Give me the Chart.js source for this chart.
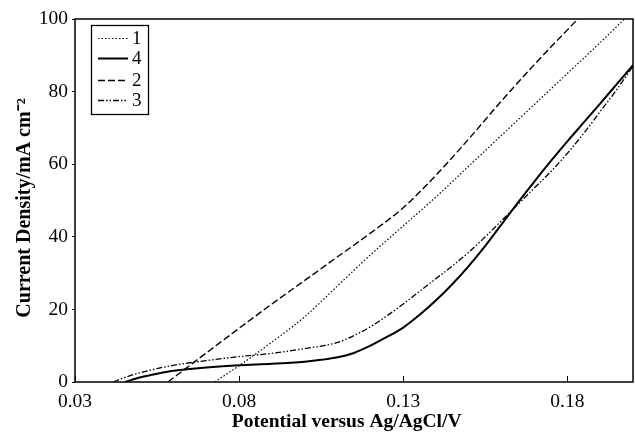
<!DOCTYPE html>
<html>
<head>
<meta charset="utf-8">
<script src="https://cdn.jsdelivr.net/npm/chart.js@4.4.1/dist/chart.umd.min.js"></script>
<style>
  html, body { margin: 0; padding: 0; background: #fff; }
  #wrap { width: 635px; height: 434px; }
</style>
</head>
<body>
<div id="wrap"><canvas id="ivChart" width="635" height="434"></canvas></div>
<script>
// curve labels, legend order as in the figure
const seriesLabels = ["1", "4", "2", "3"];

// curve 1 (dotted)
const potential1 = [0.0726, 0.08, 0.09, 0.10, 0.11, 0.12, 0.13, 0.14, 0.15, 0.16, 0.17, 0.18, 0.19, 0.1974];
const current1   = [0, 4.5, 11, 18, 26.5, 35, 43, 51, 59.5, 68, 76.5, 85, 93.5, 100];

// curve 4 (solid)
const potential4 = [0.0452, 0.05, 0.055, 0.06, 0.065, 0.07, 0.08, 0.09, 0.10, 0.105, 0.11, 0.115, 0.12, 0.125, 0.13, 0.135, 0.14, 0.145, 0.15, 0.155, 0.16, 0.165, 0.17, 0.175, 0.18, 0.185, 0.19, 0.195, 0.20];
const current4   = [0, 1.3, 2.3, 3.1, 3.6, 4.0, 4.6, 5.0, 5.6, 6.1, 6.8, 8.0, 10.0, 12.4, 15, 18.5, 22.5, 27, 32, 37.5, 43.5, 49.5, 55.3, 60.9, 66.3, 71.5, 76.7, 82, 87.3];

// curve 2 (dashed)
const potential2 = [0.0583, 0.07, 0.08, 0.09, 0.10, 0.11, 0.12, 0.13, 0.14, 0.15, 0.16, 0.17, 0.18, 0.1832];
const current2   = [0, 8, 14.8, 21.5, 28, 34.5, 41, 48, 57, 67, 77.5, 87.5, 97, 100];

// curve 3 (dash-dot)
const potential3 = [0.0417, 0.045, 0.05, 0.055, 0.06, 0.065, 0.07, 0.08, 0.09, 0.10, 0.105, 0.11, 0.115, 0.12, 0.125, 0.13, 0.135, 0.14, 0.145, 0.15, 0.155, 0.16, 0.165, 0.17, 0.175, 0.18, 0.185, 0.19, 0.195, 0.20];
const current3   = [0, 1.2, 2.6, 3.7, 4.6, 5.3, 5.9, 7.0, 7.9, 9.2, 9.9, 10.9, 12.8, 15.2, 18.2, 21.5, 25, 28.5, 32, 35.8, 40, 44.5, 49, 53.5, 58, 63, 68.5, 74.5, 80.5, 87];

// axis ticks
const xTicks = [0.03, 0.08, 0.13, 0.18];
const yTicks = [0, 20, 40, 60, 80, 100];

const FONT = "'Liberation Serif', 'Times New Roman', serif";

function toPoints(xs, ys) {
    return xs.map((x, i) => ({ x: x, y: ys[i] }));
}

const lineStyles = [
    { dash: [1.5, 2], width: 1.2 },   // 1
    { dash: [], width: 2 },           // 4
    { dash: [7, 3], width: 1.4 },     // 2
    { dash: [6, 2, 1.5, 2, 1.5, 2], width: 1.3 } // 3
];

const seriesData = [
    toPoints(potential1, current1),
    toPoints(potential4, current4),
    toPoints(potential2, current2),
    toPoints(potential3, current3)
];

// frame, inward x ticks and the boxed legend
const framePlugin = {
    id: "frame",
    afterDraw(chart) {
        const ctx = chart.ctx;
        const a = chart.chartArea;
        const xs = chart.scales.x;
        ctx.save();
        ctx.strokeStyle = "#000";
        ctx.lineWidth = 1.5;
        ctx.setLineDash([]);
        ctx.strokeRect(a.left, a.top, a.right - a.left, a.bottom - a.top);

        // inward ticks on the x axis
        ctx.lineWidth = 1;
        xTicks.forEach(v => {
            const px = Math.round(xs.getPixelForValue(v)) + 0.5;
            ctx.beginPath();
            ctx.moveTo(px, a.bottom);
            ctx.lineTo(px, a.bottom - 6);
            ctx.stroke();
        });

        // legend
        const lx = 91, ly = 25, lw = 57, lh = 89;
        ctx.fillStyle = "#fff";
        ctx.fillRect(lx, ly, lw, lh);
        ctx.lineWidth = 1.3;
        ctx.strokeRect(lx + 0.5, ly + 0.5, lw, lh);
        const rowY = [38, 58, 80, 100];
        ctx.font = "19px " + FONT;
        ctx.textBaseline = "middle";
        ctx.fillStyle = "#000";
        seriesLabels.forEach((lab, i) => {
            ctx.setLineDash(lineStyles[i].dash);
            ctx.lineWidth = lineStyles[i].width;
            ctx.beginPath();
            ctx.moveTo(98, rowY[i] + 0.5);
            ctx.lineTo(128, rowY[i] + 0.5);
            ctx.stroke();
            ctx.setLineDash([]);
            ctx.fillText(lab, 132, rowY[i] + 1);
        });
        ctx.restore();
    }
};

const ctx = document.getElementById("ivChart").getContext("2d");
new Chart(ctx, {
    type: "line",
    data: {
        datasets: seriesLabels.map((lab, i) => ({
            label: lab,
            data: seriesData[i],
            borderColor: "#000",
            borderWidth: lineStyles[i].width,
            borderDash: lineStyles[i].dash,
            pointRadius: 0,
            fill: false,
            cubicInterpolationMode: "monotone"
        }))
    },
    options: {
        responsive: false,
        animation: false,
        layout: { padding: { left: 0, top: 19, right: 2, bottom: 0 } },
        plugins: {
            legend: { display: false },
            tooltip: { enabled: false }
        },
        scales: {
            x: {
                type: "linear",
                min: 0.03,
                max: 0.2,
                afterBuildTicks: s => { s.ticks = xTicks.map(v => ({ value: v })); },
                afterFit: s => { s.height = 52; },
                grid: { display: true, drawOnChartArea: false, drawTicks: false },
                border: { display: false },
                ticks: {
                    color: "#000",
                    padding: 8,
                    font: { family: FONT, size: 19.5 },
                    callback: v => v.toFixed(2)
                },
                title: {
                    display: true,
                    text: "Potential versus Ag/AgCl/V   ",
                    color: "#000",
                    font: { family: FONT, size: 19.5, weight: "bold" },
                    padding: { top: 0, bottom: 0 }
                }
            },
            y: {
                min: 0,
                max: 100,
                afterBuildTicks: s => { s.ticks = yTicks.map(v => ({ value: v })); },
                afterFit: s => { s.width = 75; },
                grid: { drawOnChartArea: false, drawTicks: true, tickLength: 3, color: "#000" },
                border: { display: false },
                ticks: {
                    color: "#000",
                    padding: 4,
                    font: { family: FONT, size: 19.5 }
                },
                title: {
                    display: true,
                    text: "Current Density/mA cm\u207B\u00B2   ",
                    color: "#000",
                    font: { family: FONT, size: 20, weight: "bold" },
                    padding: { top: 13, bottom: 0 }
                }
            }
        }
    },
    plugins: [framePlugin]
});
</script>
</body>
</html>
